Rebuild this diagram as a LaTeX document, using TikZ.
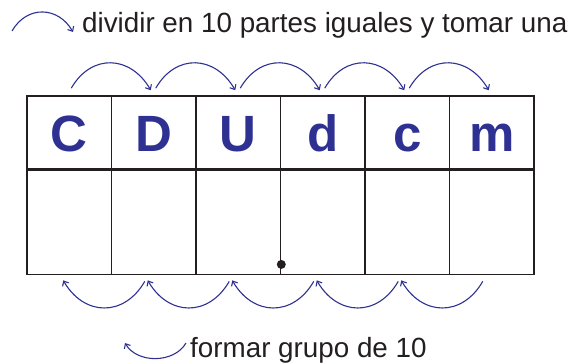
\documentclass[tikz,border=0pt]{standalone}
\usepackage{fontspec}
\setmainfont{Liberation Sans}
\usetikzlibrary{arrows.meta}
\definecolor{azul}{RGB}{46,49,146}
\definecolor{tinta}{RGB}{35,31,32}
\tikzset{
  celda/.style={draw=tinta,line width=1.6pt,minimum width=84.5pt,inner sep=0pt},
  cifra/.style={celda,minimum height=73pt,text height=37pt,text depth=0pt,text=azul,font=\fontsize{51}{54}\selectfont\bfseries},
  vacia/.style={celda,minimum height=104pt},
  salto/.style={azul,line width=1.1pt,-{Straight Barb[length=4pt,width=7pt]}},
  leyenda/.style={anchor=base west,inner sep=0pt,text=tinta,font=\fontsize{27.8}{30}\selectfont}
}
\begin{document}
\begin{tikzpicture}[x=1pt,y=-1pt]
    \useasboundingbox (0,0) rectangle (574,364);
    % tabla de posiciones
    \foreach \l [count=\i] in {C,D,U,d,c,m}{
        \node[cifra] (arr\i) at ({27+84.5*(\i-0.5)},132.5) {\l};
        \node[vacia,anchor=north] (ab\i) at (arr\i.south) {};
    }
    \fill[tinta] ([yshift=11pt]ab3.south east) circle (4.5pt);
    % saltos arriba y abajo
    \foreach \i [evaluate=\i as \j using int(\i+1)] in {1,...,5}{
        \draw[salto] ([xshift=2pt,yshift=7pt]arr\i.north) to[out=60,in=120,looseness=1.3] ([xshift=-3pt,yshift=5pt]arr\j.north);
        \draw[salto] ([xshift=-9pt,yshift=-6pt]ab\j.south) to[out=-120,in=-60,looseness=1.3] ([xshift=-6pt,yshift=-5pt]ab\i.south);
    }
    % leyendas
    \node[leyenda] (dividir) at (82,32) {dividir en 10 partes iguales y tomar una};
    \coordinate (d0) at (12,31);
    \coordinate (d1) at (73,32);
    \draw[salto] (d0) to[out=60,in=120,looseness=1.25] (d1);
    \node[leyenda] (formar) at (190,357) {formar grupo de 10};
    \coordinate (f0) at (186,343);
    \coordinate (f1) at (125,343);
    \draw[salto] (f0) to[out=-120,in=-60,looseness=1.0] (f1);
\end{tikzpicture}
\end{document}
